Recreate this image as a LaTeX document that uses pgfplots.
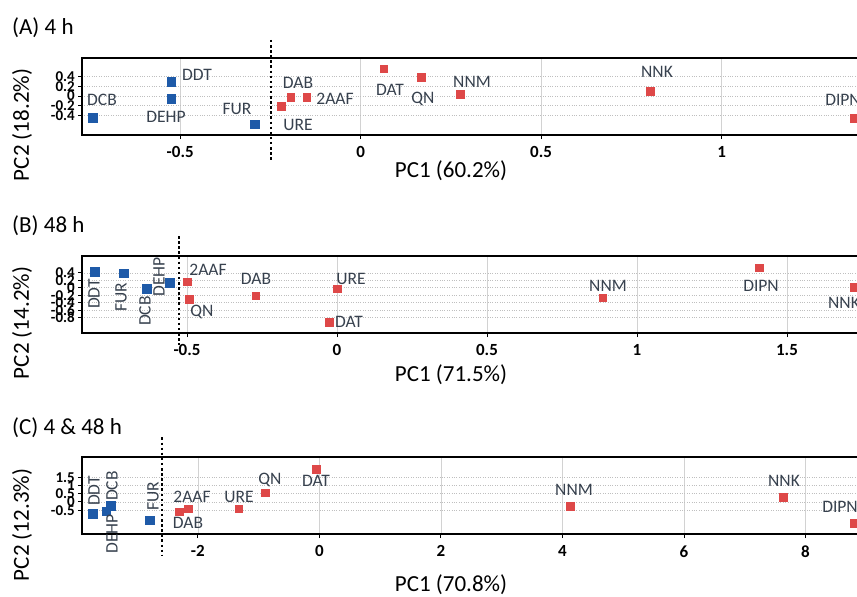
\documentclass[border=0pt]{standalone}
\usepackage{pgfplots}
\pgfplotsset{compat=1.18}
\usepackage{fontspec}
\setmainfont{Carlito}

\definecolor{pcblue}{RGB}{30,90,168}
\definecolor{pcred}{RGB}{222,72,72}
\definecolor{lbl}{RGB}{55,65,78}

\pgfplotsset{
  pca/.style={
    scale only axis, width=780pt, height=77pt, anchor=south west,
    axis line style={line width=1.9pt},
    tick align=outside, xtick pos=bottom, ytick pos=left,
    major tick length=4pt, tick style={black, line width=0.9pt},
    xmajorgrids, ymajorgrids,
    x grid style={gray!35, line width=0.6pt},
    y grid style={gray!50, dotted, line width=0.6pt},
    /pgf/number format/assume math mode=true,
    xticklabel style={font=\bfseries\fontsize{17}{17}\selectfont, yshift=-4pt},
    yticklabel style={font=\bfseries\fontsize{15}{15}\selectfont, inner sep=1pt, xshift=-2pt},
    clip=false,
  },
  bluepts/.style={only marks, mark=square*, mark size=4.3pt, mark options={fill=pcblue, draw=pcblue}},
  redpts/.style={only marks, mark=square*, mark size=3.8pt, mark options={fill=pcred, draw=pcred}},
}
\tikzset{
  pl/.style={text=lbl, font=\fontsize{17.5}{17.5}\selectfont, inner sep=0pt},
  ttl/.style={font=\fontsize{23}{23}\selectfont, inner sep=0pt},
  sep/.style={line width=2.6pt, dash pattern=on 2.5pt off 2.6pt},
}

\begin{document}
\begin{tikzpicture}
\useasboundingbox (0pt,0pt) rectangle (857pt,-597pt);
\clip (0pt,0pt) rectangle (857pt,-597pt);

% (A) 4 h
\begin{axis}[pca, at={(82pt,-135pt)},
  xmin=-0.772, xmax=1.389, ymin=-0.80, ymax=0.78,
  xtick={-0.5,0,0.5,1}, ytick={-0.4,-0.2,0,0.2,0.4}]
\addplot[bluepts] coordinates {(-0.742,-0.45)(-0.525,0.29)(-0.525,-0.06)(-0.294,-0.58)};
\addplot[redpts] coordinates {(-0.22,-0.21)(-0.194,-0.02)(-0.15,-0.02)(0.064,0.56)(0.167,0.39)(0.275,0.035)(0.803,0.10)(1.367,-0.45)};
\draw[sep] (axis cs:-0.248,1.15) -- (axis cs:-0.248,-1.32);
\end{axis}
\node[ttl, anchor=west] at (12pt,-28pt) {(A) 4 h};
\node[ttl] at (451pt,-171pt) {PC1 (60.2\%)};
\node[ttl, rotate=90] at (22pt,-125pt) {PC2 (18.2\%)};
\node[pl] at (102pt,-100pt) {DCB};
\node[pl] at (197pt,-75pt) {DDT};
\node[pl] at (166pt,-117pt) {DEHP};
\node[pl] at (237pt,-109pt) {FUR};
\node[pl] at (298pt,-125pt) {URE};
\node[pl] at (298pt,-83pt) {DAB};
\node[pl] at (335pt,-99pt) {2AAF};
\node[pl] at (390pt,-90pt) {DAT};
\node[pl] at (423pt,-99pt) {QN};
\node[pl] at (472pt,-82pt) {NNM};
\node[pl] at (657pt,-72pt) {NNK};
\node[pl] at (843pt,-100pt) {DIPN};

% (B) 48 h
\begin{axis}[pca, at={(82pt,-333pt)},
  xmin=-0.85, xmax=1.75, ymin=-1.21, ymax=0.85,
  xtick={-0.5,0,0.5,1,1.5}, ytick={-0.8,-0.6,-0.4,-0.2,0,0.2,0.4}]
\addplot[bluepts] coordinates {(-0.807,0.43)(-0.712,0.39)(-0.634,-0.03)(-0.557,0.13)};
\addplot[redpts] coordinates {(-0.50,0.16)(-0.492,-0.31)(-0.271,-0.21)(0.0,-0.03)(-0.027,-0.92)(0.885,-0.27)(1.408,0.54)(1.723,0.01)};
\draw[sep] (axis cs:-0.527,1.38) -- (axis cs:-0.527,-1.53);
\end{axis}
\node[ttl, anchor=west] at (12pt,-226pt) {(B) 48 h};
\node[ttl] at (451pt,-375pt) {PC1 (71.5\%)};
\node[ttl, rotate=90] at (22pt,-323pt) {PC2 (14.2\%)};
\node[pl, rotate=90] at (94pt,-294pt) {DDT};
\node[pl, rotate=90] at (121pt,-297pt) {FUR};
\node[pl, rotate=90] at (145pt,-311pt) {DCB};
\node[pl, rotate=90] at (159pt,-277pt) {DEHP};
\node[pl] at (208pt,-270pt) {2AAF};
\node[pl] at (202pt,-312pt) {QN};
\node[pl] at (256pt,-279pt) {DAB};
\node[pl] at (351pt,-279pt) {URE};
\node[pl] at (349pt,-322pt) {DAT};
\node[pl] at (608pt,-286pt) {NNM};
\node[pl] at (761pt,-286pt) {DIPN};
\node[pl] at (844pt,-303pt) {NNK};

% (C) 4 & 48 h
\begin{axis}[pca, at={(82pt,-534pt)},
  xmin=-3.906, xmax=8.93, ymin=-1.95, ymax=2.73,
  xtick={-2,0,2,4,6,8}, ytick={-0.5,0,0.5,1,1.5}]
\addplot[bluepts] coordinates {(-3.73,-0.70)(-3.51,-0.56)(-3.43,-0.24)(-2.79,-1.11)};
\addplot[redpts] coordinates {(-2.31,-0.60)(-2.16,-0.40)(-1.33,-0.40)(-0.89,0.55)(-0.05,1.98)(4.13,-0.26)(7.63,0.27)(8.79,-1.31)};
\draw[sep] (axis cs:-2.59,3.92) -- (axis cs:-2.59,-3.23);
\end{axis}
\node[ttl, anchor=west] at (12pt,-428pt) {(C) 4 \& 48 h};
\node[ttl] at (451pt,-585pt) {PC1 (70.8\%)};
\node[ttl, rotate=90] at (22pt,-525pt) {PC2 (12.3\%)};
\node[pl, rotate=90] at (94pt,-491pt) {DDT};
\node[pl, rotate=90] at (112pt,-486pt) {DCB};
\node[pl, rotate=90] at (112pt,-534pt) {DEHP};
\node[pl, rotate=90] at (153pt,-496pt) {FUR};
\node[pl] at (192pt,-497pt) {2AAF};
\node[pl] at (188pt,-523pt) {DAB};
\node[pl] at (239pt,-497pt) {URE};
\node[pl] at (270pt,-480pt) {QN};
\node[pl] at (316pt,-481pt) {DAT};
\node[pl] at (574pt,-490pt) {NNM};
\node[pl] at (784pt,-481pt) {NNK};
\node[pl] at (840pt,-507pt) {DIPN};
\end{tikzpicture}
\end{document}
